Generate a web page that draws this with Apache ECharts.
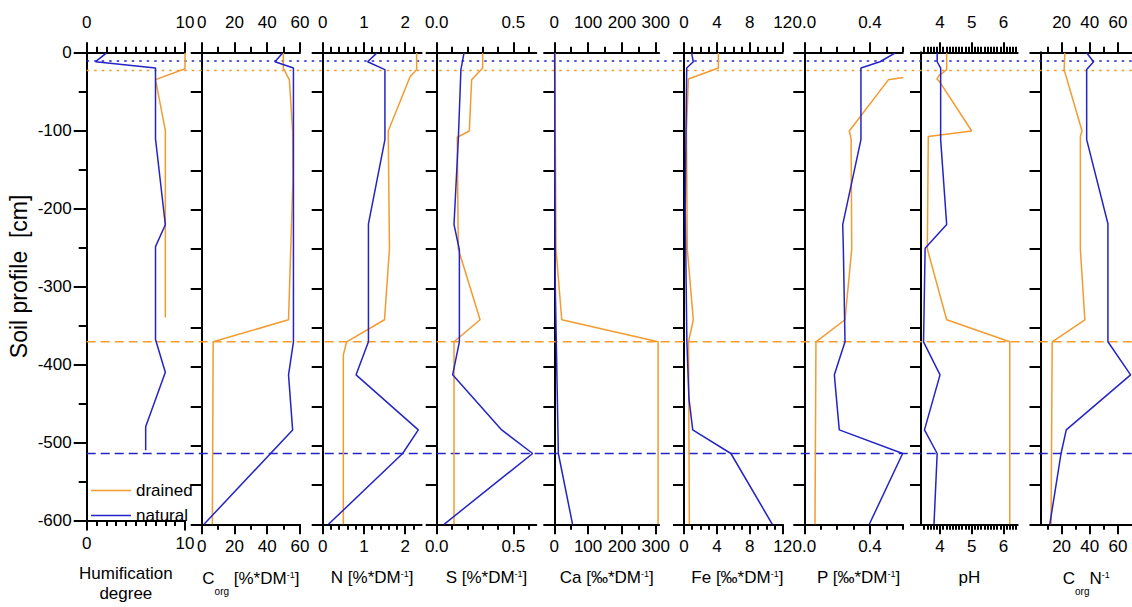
<!DOCTYPE html>
<html><head><meta charset="utf-8">
<script src="https://cdn.jsdelivr.net/npm/echarts@6/dist/echarts.min.js"></script>
<style>html,body{margin:0;padding:0;background:#fff}#c{width:1132px;height:607px}</style>
</head><body><div id="c"></div>
<script>
// ===== data: [value, depth(cm)] pairs =====
const humDrained  = [[10,-1],[10,-21],[7.0,-35],[8.0,-100],[8.0,-340]];
const humNatural  = [[2.0,-1],[0.9,-12],[7.0,-20],[7.0,-111],[8.0,-221],[7.0,-249],[7.0,-368],[8.0,-410],[6.0,-480],[6.0,-510]];
const corgDrained = [[49.8,-1],[49.8,-20],[53.5,-35],[55.5,-100],[55.7,-160],[53,-340],[7,-368],[6.5,-600]];
const corgNatural = [[49.4,-1],[44.7,-12],[56,-20],[56,-368],[53,-410],[55.5,-480],[1.4,-600]];
const nDrained    = [[2.28,-1],[2.28,-22],[2.12,-31],[1.59,-100],[1.62,-250],[1.5,-340],[0.58,-368],[0.5,-385],[0.5,-600]];
const nNatural    = [[1.31,-1],[1.09,-12],[1.51,-22],[1.51,-111],[1.11,-218],[1.11,-368],[0.81,-410],[2.32,-480],[1.94,-510],[0.14,-600]];
const sDrained    = [[0.30,-1],[0.30,-20],[0.228,-35],[0.213,-100],[0.134,-108],[0.141,-250],[0.283,-340],[0.113,-368],[0.113,-600]];
const sNatural    = [[0.178,-1],[0.158,-22],[0.141,-111],[0.113,-219],[0.148,-251],[0.148,-368],[0.104,-410],[0.424,-480],[0.626,-510],[0.048,-600]];
const caDrained   = [[3,-1],[3,-100],[5,-250],[22,-340],[307,-368],[307,-600]];
const caNatural   = [[1,-1],[3,-300],[12,-510],[54,-600]];
const feDrained   = [[4.18,-1],[4.18,-20],[0.53,-34],[0.3,-100],[0.4,-250],[1.13,-340],[0.55,-368],[0.65,-600]];
const feNatural   = [[0.93,-1],[1.13,-12],[0.33,-20],[0.24,-103],[0.15,-200],[0.35,-368],[0.6,-440],[1.06,-480],[5.7,-510],[10.74,-600]];
const pDrained    = [[0.603,-32],[0.512,-35],[0.274,-100],[0.285,-110],[0.289,-250],[0.248,-340],[0.071,-368],[0.065,-600]];
const pNatural    = [[0.552,-1],[0.461,-12],[0.345,-20],[0.345,-111],[0.234,-219],[0.238,-251],[0.248,-368],[0.183,-410],[0.213,-480],[0.599,-510],[0.396,-600]];
const phDrained   = [[4.21,-1],[4.21,-22],[3.96,-30],[3.9,-34],[3.98,-37],[5.0,-100],[3.63,-107],[3.6,-250],[4.21,-340],[6.2,-368],[6.2,-600]];
const phNatural   = [[3.91,-1],[3.91,-12],[4.02,-20],[4.02,-111],[4.21,-219],[3.53,-249],[3.48,-368],[4.0,-410],[3.51,-480],[3.91,-510],[3.81,-600]];
const cnDrained   = [[22.3,-1],[21.8,-22],[34.5,-100],[33.3,-107],[33.3,-250],[36.5,-340],[13.3,-368],[12.5,-600]];
const cnNatural   = [[37.8,-1],[42.7,-12],[37.8,-22],[37.8,-111],[52.9,-218],[52.9,-368],[69,-410],[23.3,-480],[19.6,-510],[11.6,-600]];

// horizon boundaries (cm)
const horizonNaturalTop = -11, horizonDrainedTop = -23, horizonDrainedBase = -368, horizonNaturalBase = -510;

// ===== tick labels / tick positions =====
const humLabels=[0,10],  humMinor=[1,2,3,4,5,6,7,8,9];
const corgLabels=[0,20,40,60], corgMinor=[10,30,50];
const nLabels=[0,1,2], nMinor=[0.2,0.4,0.6,0.8,1.2,1.4,1.6,1.8,2.2];
const sLabels=[0,0.5], sMinor=[0.1,0.2,0.3,0.4,0.6];
const caLabels=[0,100,200,300], caMinor=[50,150,250];
const feLabels=[0,4,8,12], feMinor=[1,2,3,5,6,7,9,10,11];
const pLabels=[0,0.4], pMinor=[0.1,0.2,0.3,0.5,0.6];
const phLabels=[4,5,6], phMinor=[3.5,3.6,3.7,3.8,3.9,4.1,4.2,4.3,4.4,4.5,4.6,4.7,4.8,4.9,5.1,5.2,5.3,5.4,5.5,5.6,5.7,5.8,5.9,6.1,6.2,6.3,6.4];
const cnLabels=[20,40,60], cnMinor=[10,30,50];
const depthLabels=[0,-100,-200,-300,-400,-500,-600];

// ===== layout / style =====
const FONT = '"Liberation Sans", Arial, sans-serif';
const ORANGE = '#F29B2F', BLUE = '#2424C6', BLACK = '#000';
const TOP = 52.3, H = 472;
const f1 = v => v.toFixed(1);
const panels = [
  {left:86.7,  width:98.3, min:0,   max:10,   labels:humLabels,  minor:humMinor,  dra:humDrained,  nat:humNatural,
   name:'{n|Humification}\n{n|degree}', namePad:[0,20,0,0]},
  {left:201.7, width:98.3, min:0,   max:60,   labels:corgLabels, minor:corgMinor, dra:corgDrained, nat:corgNatural,
   name:'{n|C}{sub|org}{n| [%*DM}{sup|-1}{n|]}'},
  {left:322.7, width:98.9, min:0,   max:2.4,  labels:nLabels,    minor:nMinor,    dra:nDrained,    nat:nNatural,
   name:'{n|N [%*DM}{sup|-1}{n|]}'},
  {left:436.7, width:99.6, min:0,   max:0.65, labels:sLabels,    minor:sMinor,    dra:sDrained,    nat:sNatural, fmt:f1,
   name:'{n|S [%*DM}{sup|-1}{n|]}'},
  {left:554.3, width:104.8,min:0,   max:310,  labels:caLabels,   minor:caMinor,   dra:caDrained,   nat:caNatural,
   name:'{n|Ca [‰*DM}{sup|-1}{n|]}'},
  {left:684,   width:98.7, min:0,   max:12,   labels:feLabels,   minor:feMinor,   dra:feDrained,   nat:feNatural,
   name:'{n|Fe [‰*DM}{sup|-1}{n|]}', namePad:[0,0,0,8]},
  {left:804.3, width:98.5, min:0,   max:0.6,  labels:pLabels,    minor:pMinor,    dra:pDrained,    nat:pNatural, fmt:f1,
   name:'{n|P [‰*DM}{sup|-1}{n|]}', namePad:[0,0,0,10]},
  {left:921,   width:96.7, min:3.4, max:6.45, labels:phLabels,   minor:phMinor,   dra:phDrained,   nat:phNatural,
   name:'{n|pH}'},
  {left:1040.5,width:97.5, min:5,   max:70,   labels:cnLabels,   minor:cnMinor,   dra:cnDrained,   nat:cnNatural,
   name:'{n|C}{sub|org}{n|N}{sup|-1}'}
];

const rich = {
  n:   {fontSize:17, lineHeight:20, fontFamily:FONT, color:BLACK},
  sub: {fontSize:10, lineHeight:20, fontFamily:FONT, color:BLACK, padding:[26,0,0,0]},
  sup: {fontSize:9,  lineHeight:20, fontFamily:FONT, color:BLACK, padding:[0,0,7,0]}
};
const axLine = {show:true, onZero:false, lineStyle:{color:BLACK, width:2}};
const noLine = {show:false, onZero:false};
const tickStyle = {color:BLACK, width:2};
const labelStyle = {color:BLACK, fontSize:17, fontFamily:FONT};

const grid=[], xAxis=[], yAxis=[], series=[];
panels.forEach((p,i)=>{
  grid.push({left:p.left, top:TOP, width:p.width, height:H});
  const base = {type:'value', gridIndex:i, min:p.min, max:p.max, splitLine:{show:false}};
  // top: major ticks + labels
  xAxis.push(Object.assign({}, base, {position:'top', axisLine:axLine,
    axisTick:{show:true, length:10, lineStyle:tickStyle, customValues:p.labels},
    axisLabel:Object.assign({show:true, margin:21, customValues:p.labels, formatter:p.fmt||(v=>String(v))}, labelStyle)}));
  // top: minor ticks
  xAxis.push(Object.assign({}, base, {position:'top', axisLine:noLine,
    axisTick:{show:true, length:5.5, lineStyle:tickStyle, customValues:p.minor}, axisLabel:{show:false}}));
  // bottom: major ticks + labels + name
  xAxis.push(Object.assign({}, base, {position:'bottom', axisLine:axLine,
    axisTick:{show:true, length:10, lineStyle:tickStyle, customValues:p.labels},
    axisLabel:Object.assign({show:true, margin:14, customValues:p.labels, formatter:p.fmt||(v=>String(v))}, labelStyle),
    name:p.name, nameLocation:'middle', nameGap:43,
    nameTextStyle:{rich:rich, padding:p.namePad||[0,0,0,0], align:'center', verticalAlign:'top'}}));
  // bottom: minor ticks
  xAxis.push(Object.assign({}, base, {position:'bottom', axisLine:noLine,
    axisTick:{show:true, length:5.5, lineStyle:tickStyle, customValues:p.minor}, axisLabel:{show:false}}));

  if (i === 0) {
    yAxis.push({type:'value', gridIndex:0, min:-600, max:0, interval:100, position:'left',
      axisLine:axLine, axisTick:{show:true, length:13, lineStyle:tickStyle},
      axisLabel:Object.assign({show:true, margin:15, customValues:depthLabels}, labelStyle),
      splitLine:{show:false},
      name:'Soil profile  [cm]', nameLocation:'middle', nameRotate:90, nameGap:56,
      nameTextStyle:{fontSize:23, fontFamily:FONT, color:BLACK, padding:[0,0,0,20]}});
  } else {
    yAxis.push({type:'value', gridIndex:i, min:-600, max:0, interval:50, position:'left',
      axisLine:axLine, axisTick:{show:true, length:11, lineStyle:tickStyle},
      axisLabel:{show:false}, splitLine:{show:false}});
  }
  series.push({type:'line', name:'drained', xAxisIndex:4*i, yAxisIndex:i, data:p.dra, symbol:'none',
    lineStyle:{color:ORANGE, width:1.5}, itemStyle:{color:ORANGE}, z:3});
  series.push({type:'line', name:'natural', xAxisIndex:4*i, yAxisIndex:i, data:p.nat, symbol:'none',
    lineStyle:{color:BLUE, width:1.5}, itemStyle:{color:BLUE}, z:3});
});
// minor depth ticks for first panel (index 9)
yAxis.push({type:'value', gridIndex:0, min:-600, max:0, interval:50, position:'left',
  axisLine:noLine, axisTick:{show:true, length:8, lineStyle:tickStyle}, axisLabel:{show:false}, splitLine:{show:false}});

// overlay grid for horizon boundaries (grid 9, xAxis 36, yAxis 10)
grid.push({left:86.7, top:TOP, width:1132-86.7, height:H});
xAxis.push({type:'value', gridIndex:9, min:0, max:1, show:false});
yAxis.push({type:'value', gridIndex:9, min:-600, max:0, show:false});
const hline = (name, d, color, type) => ({type:'line', name:name, xAxisIndex:36, yAxisIndex:10,
  data:[[0,d],[1,d]], symbol:'none', silent:true, z:2, lineStyle:{color:color, width:1.5, type:type}});
series.push(hline('natural horizon top',  horizonNaturalTop,  BLUE,   [2.5,5]));
series.push(hline('drained horizon top',  horizonDrainedTop,  ORANGE, [2.5,5]));
series.push(hline('drained horizon base', horizonDrainedBase, ORANGE, [9,5]));
series.push(hline('natural horizon base', horizonNaturalBase, BLUE,   [9,5]));

const chart = echarts.init(document.getElementById('c'), null, {renderer:'svg'});
chart.setOption({
  animation:false,
  backgroundColor:'#fff',
  legend:{data:['drained','natural'], orient:'vertical', left:86, top:477, itemWidth:40, itemHeight:14, itemGap:8,
    icon:'path://M0,0 L40,0 L40,1.5 L0,1.5 Z', symbolKeepAspect:true,
    textStyle:{fontSize:17, fontFamily:FONT, color:BLACK}},
  grid:grid, xAxis:xAxis, yAxis:yAxis, series:series
});
</script></body></html>
